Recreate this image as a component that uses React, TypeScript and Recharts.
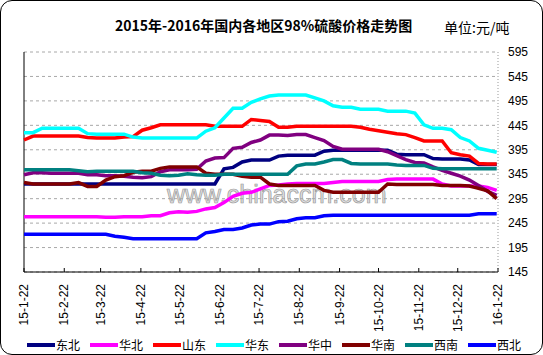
import { LineChart, Line, XAxis, YAxis, CartesianGrid, ReferenceLine } from "recharts";

// days after 2015-01-22, weekly samples
const days = [0, 7, 14, 21, 28, 35, 42, 49, 56, 63, 70, 77, 84, 91, 98, 105, 112, 119, 126, 133, 140, 147, 154, 161, 168, 175, 182, 189, 196, 203, 210, 217, 224, 231, 238, 245, 252, 259, 266, 273, 280, 287, 294, 301, 308, 315, 322, 329, 336, 343, 350, 357, 364];

const tickDays = [0, 31, 59, 90, 120, 151, 181, 212, 243, 273, 304, 334, 365];
const tickLabels = ["15-1-22", "15-2-22", "15-3-22", "15-4-22", "15-5-22", "15-6-22", "15-7-22", "15-8-22", "15-9-22", "15-10-22", "15-11-22", "15-12-22", "16-1-22"];
const priceTicks = [145, 195, 245, 295, 345, 395, 445, 495, 545, 595];

const regions = ["东北", "华北", "山东", "华东", "华中", "华南", "西南", "西北"];
const COLORS = ["#000080", "#FF00FF", "#FF0000", "#00FFFF", "#800080", "#800000", "#008080", "#0000FF"];

const dongbei = [325, 325, 325, 325, 325, 325, 325, 325, 325, 325, 325, 325, 325, 325, 325, 325, 325, 325, 325, 325, 325, 325, 356, 359, 370, 374, 374, 374, 382, 384, 384, 384, 384, 392, 394, 394, 394, 394, 394, 394, 394, 386, 385, 385, 385, 377, 376, 376, 376, 374, 365, 365, 365];
const huabei = [258, 258, 258, 258, 258, 258, 258, 258, 258, 257, 257, 258, 258, 258, 260, 260, 266, 268, 267, 269, 274, 277, 287, 300, 306, 308, 315, 322, 323, 325, 326, 326, 326, 326, 328, 330, 330, 330, 330, 330, 334, 335, 335, 335, 335, 335, 325, 321, 321, 321, 321, 318, 312];
const shandong = [415, 423, 423, 423, 423, 423, 423, 420, 419, 419, 419, 421, 422, 435, 440, 446, 446, 446, 446, 446, 446, 443, 443, 443, 443, 457, 455, 453, 441, 441, 443, 443, 443, 443, 443, 443, 443, 441, 437, 434, 431, 428, 426, 420, 413, 413, 413, 389, 385, 382, 367, 366, 366];
const huadong = [430, 430, 439, 439, 439, 439, 439, 428, 427, 427, 427, 427, 421, 419, 419, 419, 419, 419, 419, 419, 433, 440, 460, 480, 480, 492, 499, 505, 507, 507, 507, 507, 501, 495, 485, 482, 482, 478, 478, 478, 474, 474, 474, 470, 446, 439, 439, 436, 420, 413, 398, 394, 390];
const huazhong = [344, 348, 348, 347, 347, 347, 347, 344, 344, 342, 342, 341, 339, 338, 340, 350, 354, 354, 354, 355, 372, 378, 379, 398, 400, 410, 415, 425, 425, 424, 426, 426, 420, 414, 402, 396, 396, 396, 396, 396, 391, 383, 375, 369, 368, 360, 353, 347, 341, 333, 322, 310, 302];
const huanan = [328, 325, 325, 325, 325, 325, 328, 320, 320, 333, 340, 342, 349, 351, 351, 357, 360, 360, 360, 360, 347, 345, 345, 345, 341, 339, 339, 325, 322, 322, 322, 322, 322, 312, 308, 308, 308, 308, 308, 308, 325, 324, 324, 324, 324, 324, 322, 322, 322, 321, 316, 311, 295];
const xinan = [354, 354, 354, 354, 354, 354, 352, 350, 351, 351, 351, 351, 351, 348, 347, 343, 342, 343, 346, 344, 343, 343, 345, 345, 345, 345, 345, 345, 345, 345, 362, 366, 366, 370, 375, 375, 367, 366, 366, 366, 366, 364, 363, 363, 363, 357, 356, 356, 356, 356, 356, 356, 356];
const xibei = [222, 222, 222, 222, 222, 222, 222, 222, 222, 222, 218, 216, 213, 213, 213, 213, 213, 213, 213, 213, 225, 228, 232, 232, 235, 241, 243, 243, 248, 249, 254, 256, 256, 260, 261, 261, 261, 261, 261, 261, 261, 261, 261, 261, 261, 261, 261, 261, 261, 261, 264, 264, 264];

const seriesValues = [dongbei, huabei, shandong, huadong, huazhong, huanan, xinan, xibei];

const chartData = days.map((day, i) => {
  const row: Record<string, number> = { day };
  regions.forEach((name, s) => {
    row[name] = seriesValues[s][i];
  });
  return row;
});

const FONT = '"Liberation Sans", Arial, sans-serif';
const CJK = '"Noto Sans CJK SC", "Noto Sans", sans-serif';

function DateTick(props: any) {
  const { x, y, payload } = props;
  const label = tickLabels[tickDays.indexOf(payload.value)];
  return (
    <g>
      <line x1={x} y1={y} x2={x} y2={y - 4} stroke="#000" />
      <text
        transform={`translate(${x + 4},${y + 12}) rotate(-90)`}
        textAnchor="end"
        fontSize={12}
        fontFamily={FONT}
        fill="#000"
      >
        {label}
      </text>
    </g>
  );
}

export default function App() {
  return (
    <div style={{ position: "absolute", left: 0, top: 0, width: 543, height: 355, background: "#fff" }}>
      <div
        style={{
          position: "absolute",
          left: 167,
          top: 180,
          fontFamily: FONT,
          fontSize: 25,
          color: "#e0e0e0",
          WebkitTextStroke: "0.7px #9a9a9a",
          whiteSpace: "nowrap",
        }}
      >
        www.chinaccm.com
      </div>
      <div
        style={{
          position: "absolute",
          left: 115,
          top: 17,
          fontFamily: CJK,
          fontWeight: "bold",
          fontSize: 14,
          lineHeight: "16px",
          whiteSpace: "nowrap",
        }}
      >
        2015年-2016年国内各地区98%硫酸价格走势图
      </div>
      <div
        style={{
          position: "absolute",
          left: 444,
          top: 19,
          fontFamily: CJK,
          fontSize: 14,
          lineHeight: "16px",
          whiteSpace: "nowrap",
        }}
      >
        单位:元/吨
      </div>
      <div style={{ position: "absolute", left: 0, top: 0 }}>
        <LineChart
          width={543}
          height={355}
          data={chartData}
          margin={{ top: 52, right: 0, bottom: 0, left: 24 }}
          style={{ fontFamily: FONT }}
        >
          <CartesianGrid vertical={false} stroke="#a8a8a8" strokeDasharray="3 3" />
          <XAxis
            dataKey="day"
            type="number"
            domain={[0, 365]}
            ticks={tickDays}
            interval={0}
            tick={<DateTick />}
            tickLine={false}
            tickSize={0}
            tickMargin={0}
            height={83}
            axisLine={{ stroke: "#000" }}
          />
          <YAxis
            orientation="right"
            domain={[145, 595]}
            ticks={priceTicks}
            interval={0}
            width={45}
            tickLine={false}
            tickMargin={4}
            axisLine={{ stroke: "#999", strokeDasharray: "1 2" }}
            tick={{ fontSize: 12, fill: "#000", fontFamily: FONT }}
          />
          <ReferenceLine x={0} stroke="#000" />
          {regions.map((name, i) => (
            <Line
              key={name}
              type="linear"
              dataKey={name}
              stroke={COLORS[i]}
              strokeWidth={3.5}
              dot={false}
              isAnimationActive={false}
            />
          ))}
        </LineChart>
      </div>
      <div style={{ position: "absolute", left: 27, top: 337, display: "flex" }}>
        {regions.map((name, i) => (
          <div key={name} style={{ width: 63, display: "flex", alignItems: "center" }}>
            <div style={{ width: 28, height: 4, background: COLORS[i] }} />
            <span style={{ marginLeft: 1, fontFamily: CJK, fontSize: 12, lineHeight: "16px" }}>{name}</span>
          </div>
        ))}
      </div>
      <div
        style={{
          position: "absolute",
          left: 0,
          top: 0,
          width: 543,
          height: 355,
          boxSizing: "border-box",
          border: "1px solid #000",
          borderRadius: 12,
          pointerEvents: "none",
        }}
      />
    </div>
  );
}
